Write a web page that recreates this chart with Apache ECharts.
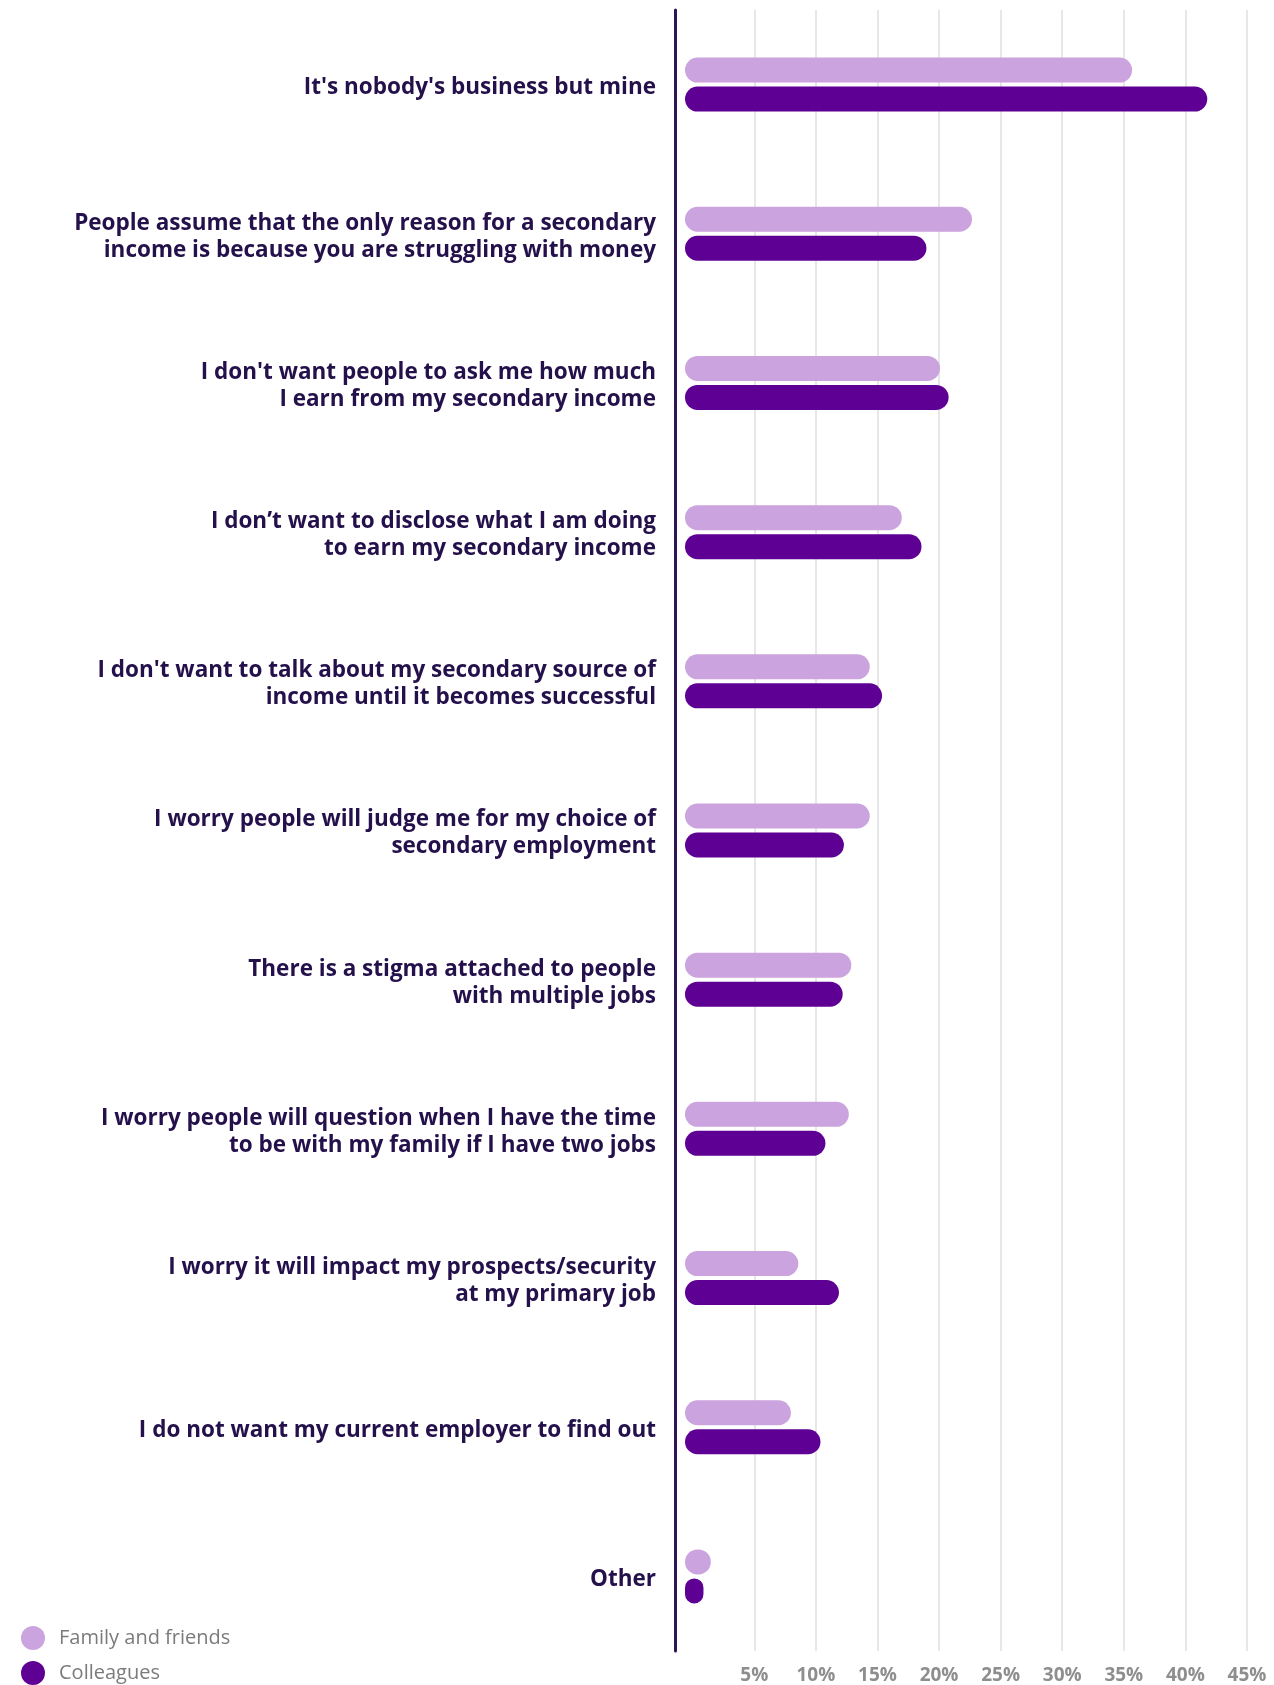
<!DOCTYPE html>
<html>
<head>
<meta charset="utf-8">
<script src="https://cdn.jsdelivr.net/npm/echarts@6/dist/echarts.min.js"></script>
<style>
  html, body { margin: 0; padding: 0; background: #ffffff; }
  #chart { width: 1274px; height: 1685px; }
</style>
</head>
<body>
<div id="chart"></div>
<script>
// Reasons for keeping a secondary income private, by audience (% of respondents)
const categories = [
  "It's nobody's business but mine",
  "People assume that the only reason for a secondary\nincome is because you are struggling with money",
  "I don't want people to ask me how much\nI earn from my secondary income",
  "I don\u2019t want to disclose what I am doing\nto earn my secondary income",
  "I don't want to talk about my secondary source of\nincome until it becomes successful",
  "I worry people will judge me for my choice of\nsecondary employment",
  "There is a stigma attached to people\nwith multiple jobs",
  "I worry people will question when I have the time\nto be with my family if I have two jobs",
  "I worry it will impact my prospects/security\nat my primary job",
  "I do not want my current employer to find out",
  "Other"
];
const familyAndFriends = [36.3, 23.3, 20.7, 17.6, 15.0, 15.0, 13.5, 13.3, 9.2, 8.6, 2.1];
const colleagues       = [42.4, 19.6, 21.4, 19.2, 16.0, 12.9, 12.8, 11.4, 12.5, 11.0, 1.5];
const tickValues = [5, 10, 15, 20, 25, 30, 35, 40, 45];
const seriesNames = ["Family and friends", "Colleagues"];

const FONT = "'Open Sans', 'Noto Sans', sans-serif";
const PX_PER_PCT = 12.3175;
const BAR_MAX = 47;          // extent of the bar scale
const GRID_SHIFT = 0.625;    // gridline scale starts slightly left of the bar origin
const PLOT_TOP = 10;
const PLOT_HEIGHT = 1641;
const LABEL_DROP = 3;        // category labels sit a little below the bar pair centre

const legendText = {
  color: '#7b7b7b',
  fontSize: 20,
  fontFamily: FONT,
  padding: [0, 0, 0, 9]
};
const legendBase = {
  left: 21,
  padding: 0,
  icon: 'circle',
  itemWidth: 24,
  itemHeight: 24,
  selectedMode: false,
  textStyle: legendText
};

const chart = echarts.init(document.getElementById('chart'), null, { renderer: 'canvas' });

chart.setOption({
  animation: false,
  backgroundColor: '#ffffff',
  grid: [
    {
      left: 685,
      top: PLOT_TOP,
      width: BAR_MAX * PX_PER_PCT,
      height: PLOT_HEIGHT,
      containLabel: false,
      outerBoundsMode: 'none'
    },
    {
      left: 685,
      top: PLOT_TOP + LABEL_DROP,
      width: BAR_MAX * PX_PER_PCT,
      height: PLOT_HEIGHT,
      containLabel: false,
      outerBoundsMode: 'none'
    }
  ],
  legend: [
    Object.assign({ top: 1626, data: [seriesNames[0]] }, legendBase),
    Object.assign({ top: 1661, data: [seriesNames[1]] }, legendBase)
  ],
  xAxis: [
    {
      type: 'value',
      gridIndex: 0,
      min: -GRID_SHIFT,
      max: BAR_MAX - GRID_SHIFT,
      axisLine: { show: false },
      axisTick: { show: false, customValues: tickValues },
      axisLabel: {
        customValues: tickValues,
        formatter: '{value}%',
        color: '#8e8e8e',
        fontSize: 19,
        fontWeight: 700,
        fontFamily: FONT,
        margin: 15
      },
      splitLine: { show: true, lineStyle: { color: '#e7e7e7', width: 2 } }
    },
    {
      type: 'value',
      gridIndex: 0,
      min: 0,
      max: BAR_MAX,
      show: false
    },
    {
      type: 'value',
      gridIndex: 1,
      min: 0,
      max: BAR_MAX,
      show: false
    }
  ],
  yAxis: [
    {
      type: 'category',
      gridIndex: 0,
      data: categories,
      inverse: true,
      offset: 10,
      axisLine: { onZero: false, lineStyle: { color: '#2d1657', width: 3 } },
      axisTick: { show: false },
      axisLabel: { show: false },
      splitLine: { show: false }
    },
    {
      type: 'category',
      gridIndex: 1,
      data: categories,
      inverse: true,
      offset: 10,
      axisLine: { show: false, onZero: false },
      axisTick: { show: false },
      splitLine: { show: false },
      axisLabel: {
        margin: 19,
        color: '#24104a',
        fontSize: 22.5,
        fontWeight: 700,
        fontFamily: FONT,
        lineHeight: 27,
        align: 'right'
      }
    }
  ],
  series: [
    {
      name: seriesNames[0],
      type: 'bar',
      xAxisIndex: 1,
      yAxisIndex: 0,
      data: familyAndFriends,
      barWidth: 25,
      barGap: '16%',
      itemStyle: { color: '#cba3de', borderRadius: 12.5 }
    },
    {
      name: seriesNames[1],
      type: 'bar',
      xAxisIndex: 1,
      yAxisIndex: 0,
      data: colleagues,
      barWidth: 25,
      barGap: '16%',
      itemStyle: { color: '#5e0094', borderRadius: 12.5 }
    }
  ]
});
</script>
</body>
</html>
